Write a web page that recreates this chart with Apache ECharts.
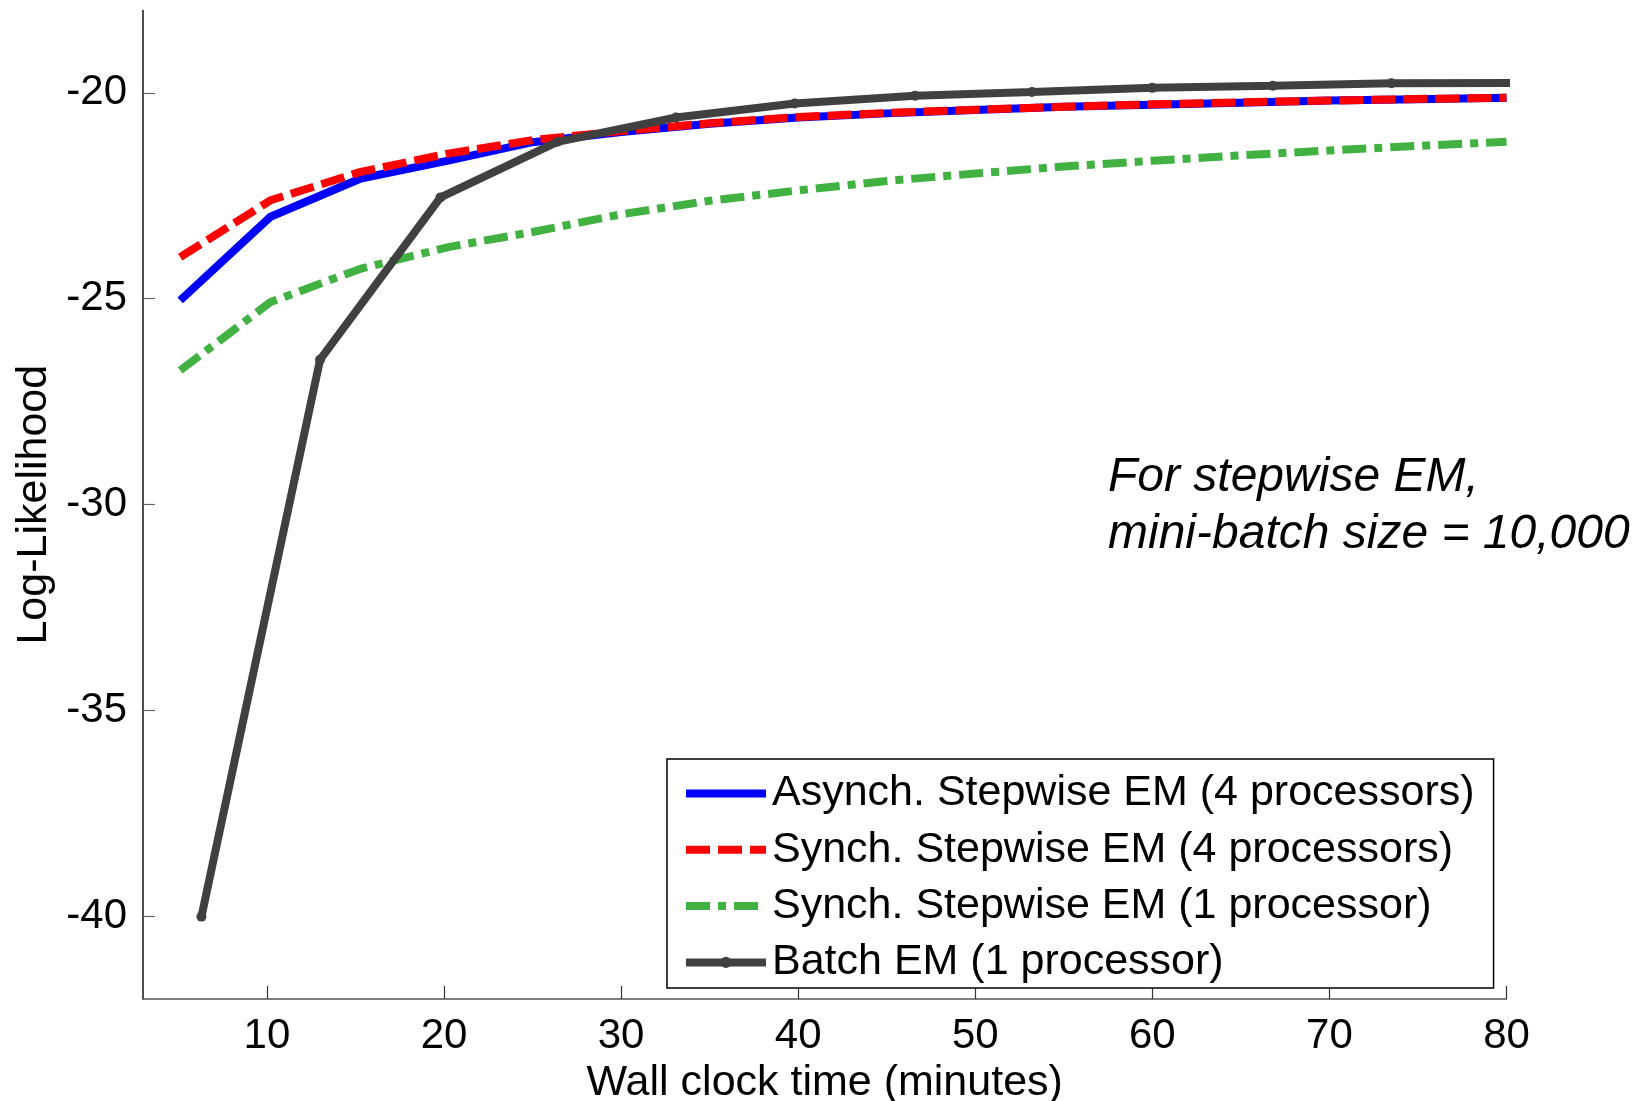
<!DOCTYPE html>
<html>
<head>
<meta charset="utf-8">
<script src="https://cdn.jsdelivr.net/npm/echarts@6/dist/echarts.min.js"></script>
<style>
html,body{margin:0;padding:0;background:#fff;}
#chart{width:1637px;height:1101px;}
</style>
</head>
<body>
<div id="chart"></div>
<script>
// ---- data ----
const seriesNames = [
  'Asynch. Stepwise EM (4 processors)',
  'Synch. Stepwise EM (4 processors)',
  'Synch. Stepwise EM (1 processor)',
  'Batch EM (1 processor)'
];
const stepTime = [5.1, 10.2, 15.3, 20.3, 25, 30, 35, 40, 45, 50, 55, 60, 65, 70, 75, 80];
const asyncStepwise4 = [-25.04, -23.01, -22.08, -21.64, -21.2, -20.95, -20.75, -20.6, -20.5, -20.42, -20.34, -20.29, -20.24, -20.19, -20.16, -20.12];
const syncStepwise4 = [-23.99, -22.61, -21.92, -21.47, -21.15, -20.93, -20.74, -20.59, -20.49, -20.41, -20.34, -20.28, -20.23, -20.19, -20.15, -20.12];
const syncStepwise1 = [-26.74, -25.08, -24.27, -23.74, -23.38, -22.95, -22.62, -22.37, -22.14, -21.96, -21.79, -21.65, -21.52, -21.40, -21.29, -21.19];
const batchTime = [6.3, 13.0, 19.8, 26.4, 33.1, 39.8, 46.6, 53.2, 60.0, 66.8, 73.5, 80.2];
const batchEM = [-40, -26.48, -22.54, -21.19, -20.60, -20.26, -20.07, -19.98, -19.88, -19.83, -19.77, -19.76];
const xTicks = [10, 20, 30, 40, 50, 60, 70, 80];
const yTicks = [-40, -35, -30, -25, -20];
const noteLines = ['For stepwise EM,', 'mini-batch size = 10,000'];

// ---- chart ----
const FONT = '"Liberation Sans", Arial, Helvetica, sans-serif';
const pair = (xs, ys) => xs.map((x, i) => [x, ys[i]]);
const hasMarker = [false, false, false, true];

const chart = echarts.init(document.getElementById('chart'), null, {renderer: 'canvas'});
chart.setOption({
  backgroundColor: '#ffffff',
  animation: false,
  textStyle: {fontFamily: FONT},
  grid: {left: 143, right: 130.5, top: 10.4, bottom: 102, containLabel: false, outerBoundsMode: 'none'},
  xAxis: {
    type: 'value', min: 3, max: 80,
    name: 'Wall clock time (minutes)', nameLocation: 'middle', nameGap: 59,
    nameTextStyle: {fontSize: 43, color: '#000', fontFamily: FONT},
    axisLine: {show: true, lineStyle: {color: '#555', width: 1.5}},
    axisTick: {show: true, inside: true, length: 13, customValues: xTicks, lineStyle: {color: '#333', width: 1.2}},
    axisLabel: {customValues: xTicks, margin: 16, fontSize: 42, color: '#000', fontFamily: FONT},
    splitLine: {show: false}
  },
  yAxis: {
    type: 'value', min: -42, max: -18,
    name: 'Log-Likelihood', nameLocation: 'middle', nameGap: 78, nameRotate: 90,
    nameTextStyle: {fontSize: 43, color: '#000', fontFamily: FONT},
    axisLine: {show: true, lineStyle: {color: '#111', width: 1.5}},
    axisTick: {show: true, inside: true, length: 12, customValues: yTicks, lineStyle: {color: '#666', width: 1.2}},
    axisLabel: {customValues: yTicks, margin: 16, fontSize: 42, color: '#000', fontFamily: FONT},
    splitLine: {show: false}
  },
  legend: {
    orient: 'vertical', left: 667, top: 759,
    backgroundColor: '#fff', borderColor: '#000', borderWidth: 1.5, borderRadius: 0,
    padding: [12, 19, 3, 15],
    itemWidth: 80, itemHeight: 14, itemGap: 11.3,
    lineStyle: {width: 8},
    textStyle: {fontSize: 43, color: '#000', fontFamily: FONT, lineHeight: 45, padding: [0, 0, 0, 1]},
    data: seriesNames.map((n, i) => hasMarker[i] ? {name: n} : {name: n, itemStyle: {opacity: 0}})
  },
  graphic: [
    {type: 'text', x: 1108, y: 478, style: {text: noteLines[0], font: 'italic 48px ' + FONT, fill: '#000', verticalAlign: 'middle'}},
    {type: 'text', x: 1108, y: 535, style: {text: noteLines[1], font: 'italic 48px ' + FONT, fill: '#000', verticalAlign: 'middle'}}
  ],
  series: [
    {
      name: seriesNames[0], type: 'line', data: pair(stepTime, asyncStepwise4),
      symbol: 'none', showSymbol: false, clip: true, z: 2,
      lineStyle: {color: '#0000ff', width: 8, type: 'solid', join: 'miter'},
      itemStyle: {color: '#0000ff'}
    },
    {
      name: seriesNames[1], type: 'line', data: pair(stepTime, syncStepwise4),
      symbol: 'none', showSymbol: false, clip: true, z: 3,
      lineStyle: {color: '#ff0000', width: 8, type: [24, 8], cap: 'butt'},
      itemStyle: {color: '#ff0000'}
    },
    {
      name: seriesNames[2], type: 'line', data: pair(stepTime, syncStepwise1),
      symbol: 'none', showSymbol: false, clip: true, z: 4,
      lineStyle: {color: '#41b241', width: 8, type: [24, 8, 8, 8], cap: 'butt'},
      itemStyle: {color: '#41b241'}
    },
    {
      name: seriesNames[3], type: 'line', data: pair(batchTime, batchEM),
      symbol: 'circle', symbolSize: 10, showSymbol: true, clip: true, z: 5,
      lineStyle: {color: '#404040', width: 8, type: 'solid'},
      itemStyle: {color: '#404040'}
    }
  ]
});
</script>
</body>
</html>
